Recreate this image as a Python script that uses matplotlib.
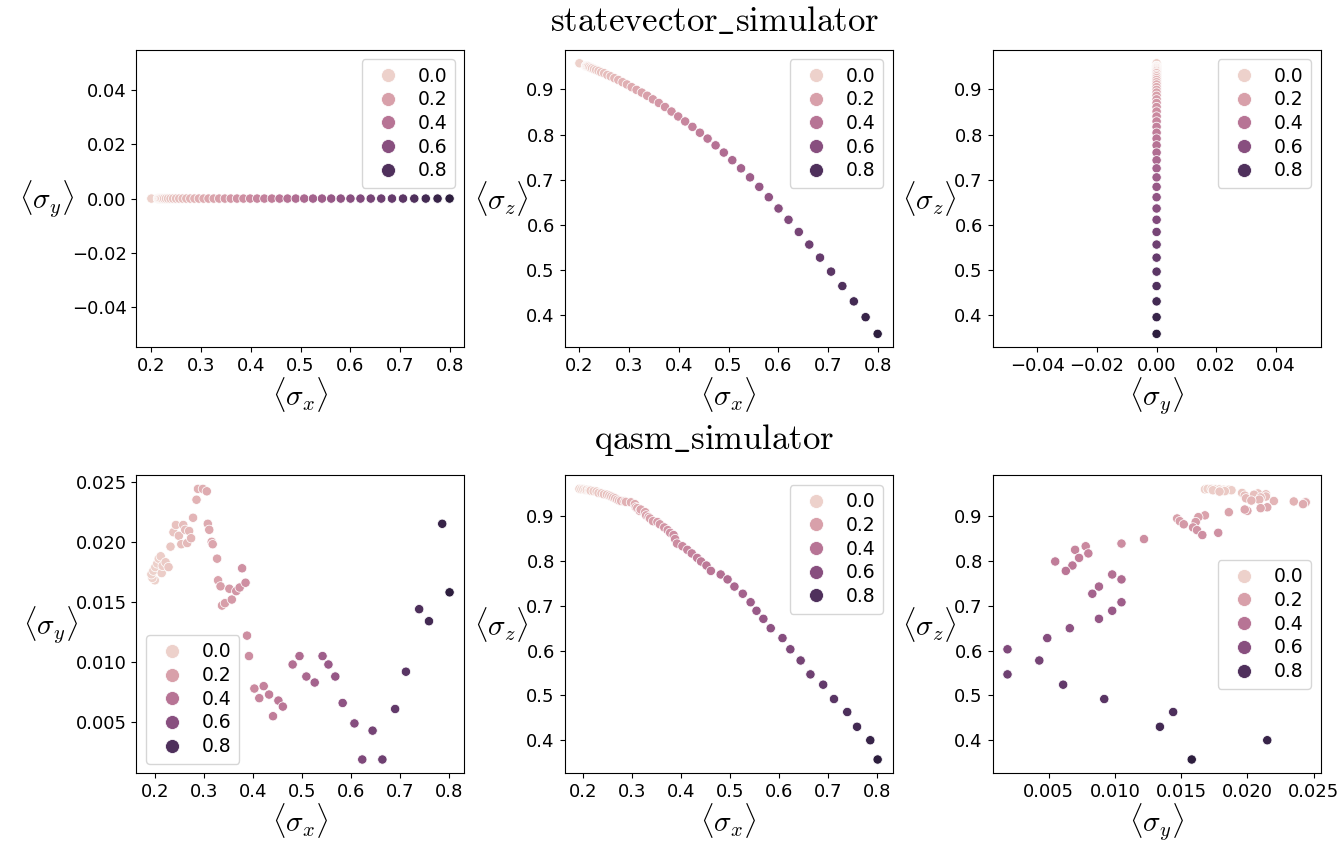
import matplotlib
matplotlib.use("Agg")
import matplotlib.pyplot as plt
from matplotlib.ticker import MultipleLocator
import seaborn as sns

plt.rcParams['mathtext.fontset'] = 'cm'

# statevector_simulator run
sv_hue = [0.000, 0.020, 0.020, 0.021, 0.023, 0.026, 0.029, 0.033, 0.038, 0.044,
          0.050, 0.058, 0.066, 0.075, 0.084, 0.094, 0.105, 0.117, 0.130, 0.143,
          0.158, 0.172, 0.188, 0.204, 0.222, 0.240, 0.258, 0.278, 0.298, 0.319,
          0.341, 0.363, 0.387, 0.411, 0.436, 0.461, 0.488, 0.515, 0.543, 0.571,
          0.601, 0.631, 0.662, 0.694, 0.726, 0.765, 0.805, 0.845, 0.887, 0.930]
sv_sx = [0.2000, 0.2130, 0.2133, 0.2140, 0.2153, 0.2171, 0.2194, 0.2222, 0.2255, 0.2293,
         0.2336, 0.2385, 0.2438, 0.2497, 0.2561, 0.2629, 0.2703, 0.2782, 0.2866, 0.2955,
         0.3050, 0.3149, 0.3254, 0.3363, 0.3478, 0.3597, 0.3722, 0.3852, 0.3987, 0.4127,
         0.4273, 0.4423, 0.4578, 0.4739, 0.4904, 0.5075, 0.5251, 0.5432, 0.5618, 0.5809,
         0.6005, 0.6206, 0.6413, 0.6624, 0.6840, 0.7062, 0.7289, 0.7520, 0.7757, 0.7999]
sv_sy = [0.0] * len(sv_sx)
sv_sz = [0.958, 0.952, 0.952, 0.952, 0.951, 0.951, 0.950, 0.948, 0.947, 0.945,
         0.943, 0.941, 0.938, 0.936, 0.932, 0.929, 0.925, 0.921, 0.916, 0.911,
         0.905, 0.899, 0.893, 0.886, 0.878, 0.870, 0.861, 0.851, 0.840, 0.829,
         0.817, 0.804, 0.791, 0.776, 0.760, 0.743, 0.725, 0.705, 0.684, 0.661,
         0.636, 0.611, 0.584, 0.556, 0.527, 0.496, 0.464, 0.430, 0.395, 0.358]

# qasm_simulator run
qa_hue = [0.000, 0.000, 0.000, 0.000, 0.002, 0.008, 0.012, 0.018, 0.021, 0.024,
          0.033, 0.042, 0.048, 0.057, 0.065, 0.074, 0.081, 0.087, 0.093, 0.099,
          0.105, 0.111, 0.117, 0.128, 0.132, 0.147, 0.159, 0.162, 0.167, 0.174,
          0.177, 0.191, 0.194, 0.201, 0.206, 0.215, 0.228, 0.236, 0.249, 0.260,
          0.267, 0.278, 0.282, 0.288, 0.305, 0.320, 0.333, 0.350, 0.362, 0.378,
          0.392, 0.422, 0.443, 0.464, 0.489, 0.513, 0.531, 0.552, 0.575, 0.611,
          0.635, 0.666, 0.696, 0.735, 0.768, 0.809, 0.845, 0.888, 0.930]
qa_sx = [0.200, 0.195, 0.193, 0.197, 0.201, 0.205, 0.208, 0.212, 0.214, 0.216,
         0.222, 0.228, 0.232, 0.238, 0.243, 0.249, 0.254, 0.258, 0.262, 0.266,
         0.270, 0.274, 0.278, 0.285, 0.288, 0.298, 0.306, 0.308, 0.311, 0.316,
         0.318, 0.327, 0.329, 0.334, 0.337, 0.343, 0.352, 0.357, 0.366, 0.373,
         0.378, 0.385, 0.388, 0.392, 0.403, 0.413, 0.422, 0.433, 0.441, 0.452,
         0.461, 0.481, 0.495, 0.509, 0.526, 0.542, 0.554, 0.568, 0.583, 0.607,
         0.623, 0.644, 0.664, 0.690, 0.712, 0.739, 0.759, 0.786, 0.801]
qa_sy = [0.0168, 0.0170, 0.0173, 0.0176, 0.0179, 0.0182, 0.0186, 0.0188, 0.0174, 0.0180,
         0.0183, 0.0179, 0.0196, 0.0208, 0.0214, 0.0205, 0.0198, 0.0214, 0.0210, 0.0199,
         0.0209, 0.0203, 0.0220, 0.0235, 0.0244, 0.0244, 0.0242, 0.0215, 0.0210, 0.0200,
         0.0198, 0.0186, 0.0168, 0.0163, 0.0147, 0.0149, 0.0161, 0.0152, 0.0159, 0.0162,
         0.0178, 0.0166, 0.0122, 0.0105, 0.0078, 0.0070, 0.0080, 0.0073, 0.0055, 0.0068,
         0.0063, 0.0098, 0.0105, 0.0088, 0.0083, 0.0105, 0.0098, 0.0088, 0.0066, 0.0049,
         0.0019, 0.0043, 0.0019, 0.0061, 0.0092, 0.0144, 0.0134, 0.0215, 0.0158]
qa_sz = [0.960, 0.961, 0.961, 0.960, 0.960, 0.959, 0.959, 0.958, 0.958, 0.957,
         0.956, 0.955, 0.952, 0.951, 0.949, 0.948, 0.946, 0.944, 0.942, 0.940,
         0.937, 0.935, 0.934, 0.933, 0.932, 0.931, 0.927, 0.920, 0.918, 0.912,
         0.915, 0.909, 0.902, 0.898, 0.895, 0.889, 0.887, 0.882, 0.875, 0.869,
         0.863, 0.858, 0.849, 0.839, 0.833, 0.825, 0.817, 0.807, 0.799, 0.790,
         0.778, 0.770, 0.759, 0.743, 0.727, 0.708, 0.689, 0.671, 0.650, 0.628,
         0.603, 0.578, 0.547, 0.524, 0.492, 0.463, 0.430, 0.400, 0.357]

lab_x = r'$\langle\sigma_x\rangle$'
lab_y = r'$\langle\sigma_y\rangle$'
lab_z = r'$\langle\sigma_z\rangle$'

fig, axes = plt.subplots(2, 3, figsize=(13.38, 8.43), dpi=100)
fig.subplots_adjust(left=0.102, right=0.987, top=0.941, bottom=0.083,
                    wspace=0.305, hspace=0.43)


def panel(ax, x, y, hue, xlabel, ylabel, loc):
    sns.scatterplot(x=x, y=y, hue=hue, ax=ax, s=45)
    ax.set_xlabel(xlabel, fontsize=21, labelpad=0)
    ax.set_ylabel(ylabel, fontsize=21, rotation=0, va='center', labelpad=18)
    ax.tick_params(labelsize=13)
    if xlabel == lab_x:
        ax.xaxis.set_major_locator(MultipleLocator(0.1))
    sns.move_legend(ax, loc, fontsize=13.5, labelspacing=0.25, markerscale=1.5,
                    handletextpad=0.6, borderpad=0.4)


panel(axes[0, 0], sv_sx, sv_sy, sv_hue, lab_x, lab_y, 'upper right')
panel(axes[0, 1], sv_sx, sv_sz, sv_hue, lab_x, lab_z, 'upper right')
panel(axes[0, 2], sv_sy, sv_sz, sv_hue, lab_y, lab_z, 'upper right')
panel(axes[1, 0], qa_sx, qa_sy, qa_hue, lab_x, lab_y, 'lower left')
panel(axes[1, 1], qa_sx, qa_sz, qa_hue, lab_x, lab_z, 'upper right')
panel(axes[1, 2], qa_sy, qa_sz, qa_hue, lab_y, lab_z, 'center right')

fig.text(0.534, 0.975, r'$\mathrm{statevector\_simulator}$', ha='center', va='center', fontsize=25)
fig.text(0.534, 0.478, r'$\mathrm{qasm\_simulator}$', ha='center', va='center', fontsize=25)

fig.savefig('out.png', dpi=100)
